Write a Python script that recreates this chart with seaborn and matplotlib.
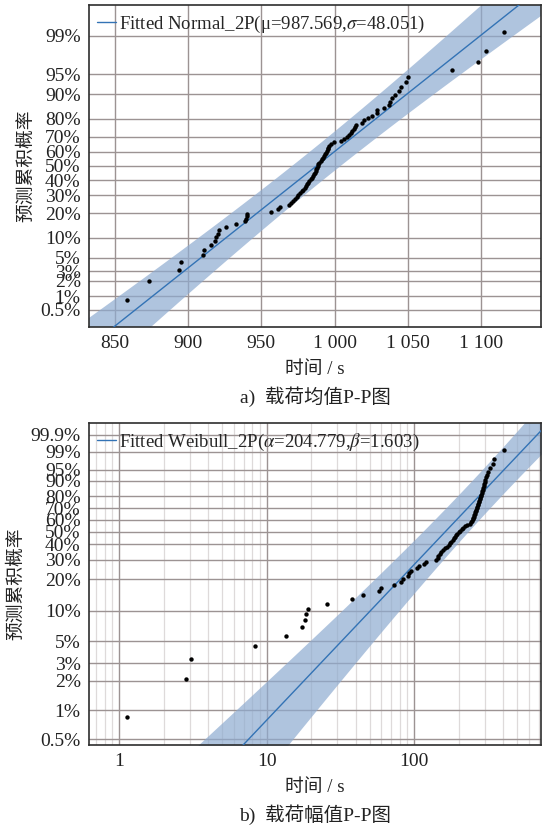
import numpy as np
import matplotlib
matplotlib.use("Agg")
import matplotlib.pyplot as plt
import seaborn as sns
from statistics import NormalDist

# ---------------- data ----------------
mean_load_times = [858.4, 873.0, 893.7, 895.1, 910.1, 910.7, 915.5, 918.5, 919.1, 920.3,
                   921.0, 925.7, 933.0, 938.9, 939.4, 939.9, 940.3, 956.9, 961.2, 962.9,
                   968.9, 970.1, 971.8, 973.2, 974.2, 975.2, 976.2, 977.6, 978.6, 979.6,
                   980.3, 981.0, 982.0, 982.7, 983.7, 984.8, 985.4, 986.1, 986.5, 987.1,
                   987.5, 987.8, 988.5, 988.8, 989.5, 990.5, 991.6, 992.3, 992.9, 993.6,
                   994.3, 994.6, 995.2, 995.7, 996.3, 997.4, 999.4, 1004.2, 1006.4, 1008.3,
                   1009.9, 1011.0, 1012.2, 1013.3, 1013.9, 1014.4, 1019.0, 1020.1, 1022.8, 1025.8,
                   1028.7, 1029.2, 1033.7, 1037.1, 1037.8, 1039.5, 1041.0, 1044.0, 1045.1, 1048.5,
                   1050.1, 1080.4, 1097.9, 1103.1, 1115.6]

amp_load_times = [1.13, 2.82, 3.05, 8.37, 13.5, 17.3, 18.3, 18.4, 19.1, 25.5,
                  37.9, 44.8, 58.0, 59.6, 72.6, 81.4, 84.6, 90.1, 92.9, 95.1,
                  104.5, 108.3, 117.1, 119.3, 141.6, 143.9, 146.1, 149.6, 153.1, 156.8,
                  161.8, 166.9, 172.2, 174.9, 177.7, 181.9, 184.7, 189.1, 192.1, 195.1,
                  199.7, 204.4, 209.3, 214.2, 221.0, 228.0, 237.1, 242.7, 246.5, 248.5,
                  250.4, 252.4, 254.4, 256.4, 258.4, 260.4, 262.4, 264.5, 266.6, 268.7,
                  270.8, 272.9, 275.0, 277.2, 279.3, 281.5, 283.8, 286.0, 288.3, 290.5,
                  292.8, 295.1, 297.4, 299.7, 302.0, 304.4, 309.2, 318.0, 326.6, 340.6,
                  347.5, 404.4]

normal_mu, normal_sigma = 987.569, 48.051
weib_alpha, weib_beta = 204.779, 1.603

top_xticks = [850, 900, 950, 1000, 1050, 1100]
top_xlabels = ["850", "900", "950", "1 000", "1 050", "1 100"]
top_yticks = [0.005, 0.01, 0.02, 0.03, 0.05, 0.1, 0.2, 0.3, 0.4, 0.5, 0.6, 0.7, 0.8, 0.9, 0.95, 0.99]
top_ylabels = ["0.5%", "1%", "2%", "3%", "5%", "10%", "20%", "30%", "40%", "50%",
               "60%", "70%", "80%", "90%", "95%", "99%"]
bot_xticks = [1, 10, 100]
bot_xlabels = ["1", "10", "100"]
bot_yticks = top_yticks + [0.999]
bot_ylabels = top_ylabels + ["99.9%"]

# ---------------- scales ----------------
_nd = NormalDist()
_ppf = np.vectorize(_nd.inv_cdf, otypes=[float])
_cdf = np.vectorize(_nd.cdf, otypes=[float])


def norm_fwd(p):
    p = np.clip(np.asarray(p, dtype=float), 1e-12, 1 - 1e-12)
    return _ppf(p)


def norm_inv(z):
    return _cdf(np.asarray(z, dtype=float))


def weib_fwd(p):
    p = np.clip(np.asarray(p, dtype=float), 1e-12, 1 - 1e-12)
    return np.log(-np.log(1 - p))


def weib_inv(w):
    return 1 - np.exp(-np.exp(np.asarray(w, dtype=float)))


def median_ranks(n):
    i = np.arange(1, n + 1)
    return (i - 0.3) / (n + 0.4)


# ---------------- style ----------------
sns.set_theme(style="white")
plt.rcParams["font.family"] = ["Liberation Serif", "Noto Sans CJK SC"]
plt.rcParams["mathtext.fontset"] = "stix"
plt.rcParams["axes.unicode_minus"] = False

GRID = "#9c9393"
MINOR = "#dedada"
SPINE = "#2e2e2e"
LINE = "#3373b5"
BAND = "#8eabd0"
TXT = "#222222"
FS = 14

fig = plt.figure(figsize=(5.42, 8.31), dpi=100)
ax1 = fig.add_axes([0.1642, 0.6065, 0.834, 0.3875])
ax2 = fig.add_axes([0.1642, 0.1035, 0.834, 0.3875])

# ---------------- top: normal ----------------
ax1.set_yscale("function", functions=(norm_fwd, norm_inv))
z = np.linspace(-3.3, 3.3, 300)
pz = norm_inv(z)
xc = normal_mu + z * normal_sigma
hw = np.sqrt(275 + 45 * z ** 2)
ax1.fill_betweenx(pz, xc - hw, xc + hw, color=BAND, alpha=0.7, lw=0, zorder=1)
sns.lineplot(x=xc, y=pz, ax=ax1, color=LINE, lw=1.0, sort=False, estimator=None,
             label="Fitted Normal_2P(μ=987.569,$\\sigma$=48.051)", zorder=3)
sns.scatterplot(x=np.sort(mean_load_times), y=median_ranks(len(mean_load_times)), ax=ax1,
                color="black", s=10, linewidth=0, zorder=4)
ax1.set_xlim(832.3, 1141)
ax1.set_ylim(float(norm_inv(-2.88)), float(norm_inv(2.88)))
ax1.set_xticks(top_xticks, top_xlabels)
ax1.set_yticks(top_yticks, top_ylabels)
ax1.minorticks_off()
ax1.grid(True, which="major", color=GRID, lw=1.0)

# ---------------- bottom: weibull ----------------
ax2.set_xscale("log")
ax2.set_yscale("function", functions=(weib_fwd, weib_inv))
w = np.linspace(-6.5, 2.8, 300)
pw = weib_inv(w)
xw = weib_alpha * np.exp(w / weib_beta)
hd = np.sqrt(0.0219 + 0.00192 * (w - 0.643) ** 2)
ax2.fill_betweenx(pw, xw * 10 ** (-hd), xw * 10 ** hd, color=BAND, alpha=0.7, lw=0, zorder=1)
sns.lineplot(x=xw, y=pw, ax=ax2, color=LINE, lw=1.0, sort=False, estimator=None,
             label="Fitted Weibull_2P($\\alpha$=204.779,$\\beta$=1.603)", zorder=3)
sns.scatterplot(x=np.sort(amp_load_times), y=median_ranks(len(amp_load_times)), ax=ax2,
                color="black", s=10, linewidth=0, zorder=4)
ax2.set_xlim(0.624, 724)
ax2.set_ylim(float(weib_inv(-5.43)), float(weib_inv(2.208)))
ax2.set_xticks(bot_xticks, bot_xlabels)
ax2.xaxis.set_minor_locator(matplotlib.ticker.LogLocator(base=10, subs=np.arange(2, 10)))
ax2.xaxis.set_minor_formatter(matplotlib.ticker.NullFormatter())
ax2.set_yticks(bot_yticks, bot_ylabels)
ax2.yaxis.set_minor_locator(matplotlib.ticker.NullLocator())
ax2.grid(True, which="minor", axis="x", color=MINOR, lw=0.9)
ax2.grid(True, which="major", color=GRID, lw=1.0)

for ax in (ax1, ax2):
    for s in ax.spines.values():
        s.set_color(SPINE)
        s.set_linewidth(1.2)
    ax.tick_params(which="major", direction="in", length=5, width=1, color=SPINE,
                   labelsize=FS, pad=6, labelcolor=TXT)
    ax.tick_params(which="minor", direction="in", length=3, width=0.8, color=SPINE)
    ax.set_xlabel("时间 / s", fontsize=13.5, labelpad=6, color=TXT)
    ax.set_ylabel("预测累积概率", fontsize=13.5, labelpad=4, color=TXT)
    ax.legend(loc="upper left", frameon=False, fontsize=13.5, handlelength=1.0,
              handletextpad=0.15, borderaxespad=0.15, borderpad=0.3)

fig.text(0.5813, 1 - 397 / 831, "a)  载荷均值P-P图", ha="center", va="center",
         fontsize=14, color=TXT)
fig.text(0.5813, 1 - 815 / 831, "b)  载荷幅值P-P图", ha="center", va="center",
         fontsize=14, color=TXT)

fig.savefig("out.png", dpi=100)
